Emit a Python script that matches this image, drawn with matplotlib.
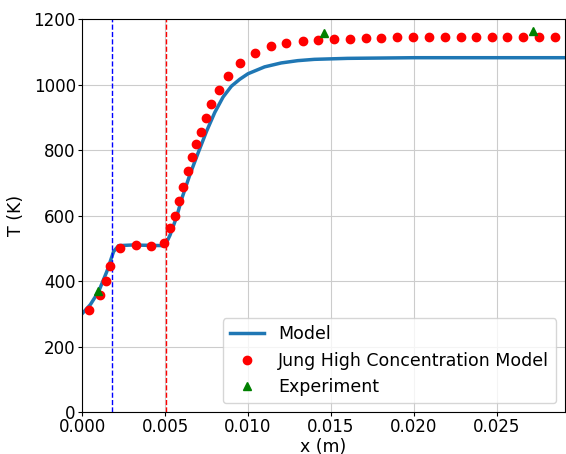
import matplotlib
matplotlib.use('Agg')
import matplotlib.pyplot as plt

# model curve
model_x = [0.0, 0.0005, 0.001, 0.0015, 0.0019, 0.0022, 0.003, 0.004, 0.005, 0.0053,
           0.0057, 0.006, 0.0065, 0.007, 0.0075, 0.008, 0.0085, 0.009, 0.0095, 0.010,
           0.011, 0.012, 0.013, 0.014, 0.016, 0.018, 0.020, 0.0293]
model_T = [300, 328, 368, 430, 490, 508, 510, 509, 508, 540,
           596, 650, 725, 792, 857, 915, 962, 995, 1016, 1033,
           1054, 1066, 1073, 1077, 1080, 1081, 1082, 1082]

# Jung high concentration model points
jung_x = [0.0004, 0.00108, 0.00143, 0.00169, 0.00231, 0.00323, 0.00418, 0.00494, 0.00528,
          0.00558, 0.00584, 0.0061, 0.00636, 0.00663, 0.00689, 0.00715, 0.00745, 0.00779,
          0.00823, 0.0088, 0.00952, 0.0104, 0.01137, 0.0123, 0.01329, 0.01425, 0.0152,
          0.01614, 0.01709, 0.018, 0.01898, 0.01994, 0.02089, 0.02185, 0.02281, 0.02373,
          0.02468, 0.02562, 0.02658, 0.02755, 0.02849]
jung_T = [311, 356, 400, 445, 502, 509, 507, 515, 562,
          600, 644, 688, 735, 778, 818, 855, 898, 940,
          982, 1026, 1067, 1097, 1118, 1128, 1133, 1137, 1139,
          1139, 1141, 1141, 1144, 1144, 1144, 1144, 1144, 1144,
          1144, 1144, 1144, 1144, 1144]

# experiment
exp_x = [0.00096, 0.01458, 0.02719]
exp_T = [370, 1157, 1165]

line_blue = 0.00181
line_red = 0.00506

fig = plt.figure(figsize=(5.66, 4.54), dpi=100)
ax = fig.add_axes([0.145, 0.0925, 0.853, 0.8655])

ax.plot(model_x, model_T, color='#1f77b4', lw=2.5, label='Model', zorder=2)
ax.plot(jung_x, jung_T, 'ro', ms=6, label='Jung High Concentration Model', zorder=3)
ax.plot(exp_x, exp_T, 'g^', ms=6, label='Experiment', zorder=4)
ax.axvline(line_blue, color='b', ls='--', lw=1)
ax.axvline(line_red, color='r', ls='--', lw=1)

ax.set_xlim(0, 0.0291)
ax.set_ylim(0, 1200)
ax.set_xticks([0, 0.005, 0.01, 0.015, 0.02, 0.025])
ax.set_xticklabels(['0.000', '0.005', '0.010', '0.015', '0.020', '0.025'])
ax.set_yticks(range(0, 1201, 200))
ax.tick_params(labelsize=12, length=3, pad=1.5)
ax.grid(True, color='#cccccc', lw=0.8)
ax.set_axisbelow(True)
ax.set_xlabel('x (m)', fontsize=12.5, labelpad=1)
ax.set_ylabel('T (K)', fontsize=12.5, labelpad=6)
ax.legend(loc='lower right', fontsize=12.5)

fig.savefig('out.png', dpi=100)
